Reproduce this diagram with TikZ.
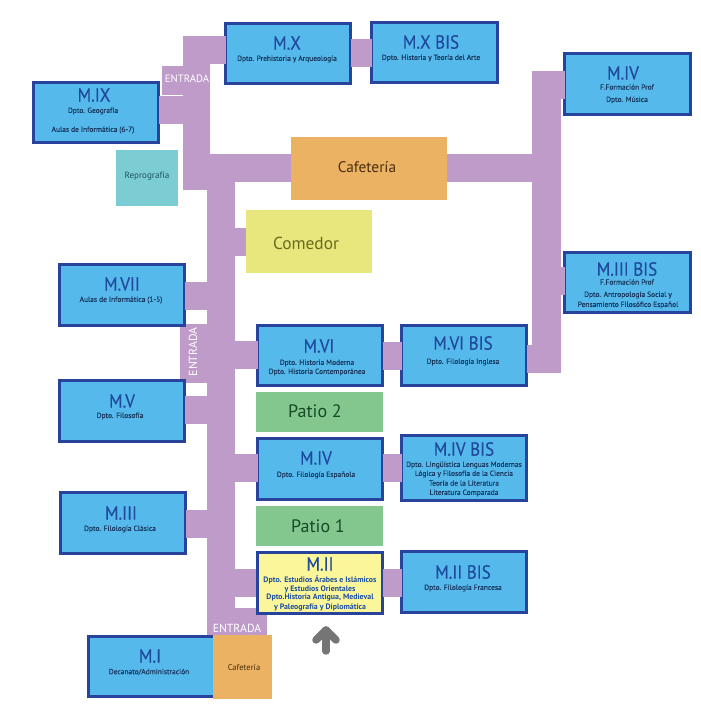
\documentclass[tikz,border=0pt]{standalone}
\usepackage{fontspec}
\setmainfont{PT Sans}
\newfontfamily\ttlfont[FakeBold=0.25,FakeStretch=0.9]{PT Sans}
\newfontfamily\subfont[FakeBold=0.25]{PT Sans}
\definecolor{corr}{HTML}{BF9BC9}
\definecolor{bluefill}{HTML}{56B9EB}
\definecolor{blueline}{HTML}{27439B}
\definecolor{ttlc}{HTML}{1F4A9C}
\definecolor{subc}{HTML}{17375E}
\definecolor{caf}{HTML}{EBB264}
\definecolor{cafc}{HTML}{4A2F0C}
\definecolor{com}{HTML}{E7E77D}
\definecolor{comc}{HTML}{6B6B1E}
\definecolor{rep}{HTML}{7CCDD3}
\definecolor{repc}{HTML}{1D5560}
\definecolor{pat}{HTML}{83C78F}
\definecolor{patc}{HTML}{174A27}
\definecolor{yel}{HTML}{FBF69A}
\definecolor{yelc}{HTML}{1B4EA0}
\definecolor{arr}{HTML}{757575}
\newcommand\bx[6]{\node[#1,minimum width={(#5-#3)*0.75pt},minimum height={(#6-#4)*0.75pt}] (#2) at ({(#3+#5)/2},{(#4+#6)/2}) {};}
\tikzset{
  flat/.style={inner sep=0pt,outer sep=0pt,draw=none},
  corrbox/.style={flat,fill=corr},
  bluebox/.style={inner sep=0pt,outer sep=0pt,draw=blueline,line width=2.25pt,fill=bluefill},
  yelbox/.style={inner sep=0pt,outer sep=0pt,draw=blueline,line width=2.25pt,fill=yel},
  cafbox/.style={flat,fill=caf},
  combox/.style={flat,fill=com},
  repbox/.style={flat,fill=rep},
  patbox/.style={flat,fill=pat},
  conn/.style={draw=corr,line width=21pt},
  ttl/.style={inner sep=0pt,text=ttlc,font=\ttlfont\fontsize{14.2}{16}\selectfont},
  sub/.style={inner sep=0pt,text=subc,font=\subfont\fontsize{5.6}{7}\selectfont},
  ysub/.style={inner sep=0pt,text=yelc,font=\fontsize{5.9}{7}\selectfont\bfseries},
  ent/.style={inner sep=0pt,text=white,font=\fontsize{8}{9}\selectfont},
}
\begin{document}
\begin{tikzpicture}[x=0.75pt,y=-0.75pt]
\useasboundingbox (0,0) rectangle (700,714);
% corridors
\bx{corrbox}{upper}{183}{36}{210}{190}
\bx{corrbox}{trunk}{207}{182}{235}{635}
\bx{corrbox}{right}{532}{71}{561}{373}
\bx{corrbox}{entA}{162}{66}{183}{95}
\bx{corrbox}{entB}{180}{324}{207}{383}
\bx{corrbox}{entC}{207}{608}{267}{635}
% boxes
\bx{bluebox}{m9}{33.5}{82.5}{158.5}{142.5}
\bx{bluebox}{m10}{225.5}{23.5}{350.5}{83.5}
\bx{bluebox}{m10b}{371.5}{22.5}{497.5}{82.5}
\bx{bluebox}{m4p}{564.5}{53.5}{690.5}{114.5}
\bx{bluebox}{m3b}{564.5}{252.5}{690.5}{312.5}
\bx{bluebox}{m7}{59.5}{264.5}{184.5}{325.5}
\bx{bluebox}{m5}{59.5}{380.5}{184.5}{441.5}
\bx{bluebox}{m6}{257.5}{325.5}{382.5}{385.5}
\bx{bluebox}{m6b}{401.5}{325.5}{526.5}{385.5}
\bx{bluebox}{m4}{257.5}{438.5}{382.5}{499.5}
\bx{bluebox}{m4b}{401.5}{435.5}{526.5}{500.5}
\bx{bluebox}{m3}{60.5}{492.5}{185.5}{553.5}
\bx{bluebox}{m2b}{401.5}{551.5}{526.5}{612.5}
\bx{bluebox}{m1}{88.5}{636.5}{214.5}{696.5}
% connectors passing under box borders
\draw[conn] (upper.east |- 0,50) -- (m10.west |- 0,50);
\draw[conn] (trunk.east |- 0,583) -- (256,583) coordinate (m2end);
\draw[conn] (upper.east |- 0,168) -- (291,168) coordinate (cafw);
\draw[conn] (right.west |- 0,168) -- (447,168) coordinate (cafe);
\draw[conn] (trunk.east |- 0,242) -- (246,242) coordinate (comw);
\draw[conn] (trunk.west |- 0,296) -- (m7.east |- 0,296);
\draw[conn] (trunk.west |- 0,410) -- (m5.east |- 0,410);
% connectors laid over box borders
\draw[conn] (upper.west |- 0,110) -- (m9.east |- 0,110);
\draw[conn] (m10.east |- 0,53) -- (m10b.west |- 0,53);
\draw[conn] (right.east |- 0,85) -- (m4p.west |- 0,85);
\draw[conn] (right.east |- 0,281) -- (m3b.west |- 0,281);
\draw[conn] (trunk.east |- 0,355) -- (m6.west |- 0,355);
\draw[conn] (m6.east |- 0,355.5) -- (m6b.west |- 0,355.5);
\draw[conn] (m6b.east |- 0,359) -- (right.east |- 0,359);
\draw[conn] (trunk.east |- 0,468) -- (m4.west |- 0,468);
\draw[conn] (m4.east |- 0,468) -- (m4b.west |- 0,468);
\draw[conn] (trunk.west |- 0,523.5) -- (m3.east |- 0,523.5);
% filled blocks without outline
\bx{cafbox}{cafe}{291}{137}{447}{200}
\bx{combox}{comedor}{246}{210}{372}{273}
\bx{repbox}{repro}{116}{150}{178}{206}
\bx{patbox}{patio2}{256}{392}{383}{432}
\bx{patbox}{patio1}{256}{506}{383}{546}
\bx{cafbox}{cafs}{213}{635}{272}{699}
\bx{yelbox}{m2}{257.5}{552.5}{382.5}{613.5}
\draw[conn] (m2.east |- 0,583) -- (m2b.west |- 0,583);
% arrow
\draw[draw=arr,line width=5.6pt,line cap=round,line join=round] (326,651) coordinate (arrb) -- (326,630) coordinate (arrt);
\draw[draw=arr,line width=5.6pt,line cap=round,line join=round] (316,640) coordinate (arrl) -- (arrt) -- (336,640) coordinate (arrr);
% texts
\node[ttl] (t9) at (94,95) {M.IX};
\node[sub] (s9a) at (93,111) {Dpto. Geografía};
\node[sub] (s9b) at (93,130) {Aulas de Informática (6-7)};
\node[ttl] (t10) at (287,43) {M.X};
\node[sub] (s10) at (287,59) {Dpto. Prehistoria y Arqueología};
\node[ttl] (t10b) at (431,42) {M.X BIS};
\node[sub] (s10b) at (431,58) {Dpto. Historia y Teoría del Arte};
\node[ttl] (t4p) at (623,73) {M.IV};
\node[sub] (s4a) at (627,87) {F.Formación Prof};
\node[sub] (s4b) at (627,100) {Dpto. Música};
\node[ttl] (t3b) at (627,269) {M.III BIS};
\node[sub] (s3a) at (627,282) {F.Formación Prof};
\node[sub] (s3b) at (628,295) {Dpto. Antropología Social y};
\node[sub] (s3c) at (628,305) {Pensamiento Filosófico Español};
\node[inner sep=0pt,text=cafc,font=\fontsize{11.5}{13}\selectfont] (tcaf) at (367,167) {Cafetería};
\node[inner sep=0pt,text=comc,font=\fontsize{13}{15}\selectfont] (tcom) at (306,243) {Comedor};
\node[inner sep=0pt,text=repc,font=\fontsize{6.8}{8}\selectfont] (trep) at (147,176) {Reprografía};
\node[inner sep=0pt,text=cafc,font=\fontsize{6.4}{8}\selectfont] (tcafs) at (244,667) {Cafetería};
\node[ttl] (t7) at (122,284) {M.VII};
\node[sub] (s7) at (121,300) {Aulas de Informática (1-5)};
\node[ttl] (t5) at (122,401) {M.V};
\node[sub] (s5) at (120,416) {Dpto. Filosofía};
\node[ttl] (t6) at (319,346) {M.VI};
\node[sub] (s6a) at (317,363) {Dpto. Historia Moderna};
\node[sub] (s6b) at (317,372) {Dpto. Historia Contemporánea};
\node[ttl] (t6b) at (463,343) {M.VI BIS};
\node[sub] (s6c) at (463,362) {Dpto. Filología Inglesa};
\node[inner sep=0pt,text=patc,font=\fontsize{13.5}{15}\selectfont] (tp2) at (315,411) {Patio 2};
\node[ttl] (t4) at (316,458) {M.IV};
\node[sub] (s4) at (316,475) {Dpto. Filología Española};
\node[ttl] (t4b) at (464,449) {M.IV BIS};
\node[sub] (s4c) at (464,465) {Dpto. Lingüística Lenguas Modernas};
\node[sub] (s4d) at (464,474) {Lógica y Filosofía de la Ciencia};
\node[sub] (s4e) at (464,483) {Teoría de la Literatura};
\node[sub] (s4f) at (464,493) {Literatura Comparada};
\node[inner sep=0pt,text=patc,font=\fontsize{13.5}{15}\selectfont] (tp1) at (318,526) {Patio 1};
\node[ttl] (t2) at (320,564) {M.II};
\node[ysub] (s2a) at (320,580) {Dpto. Estudios Árabes e Islámicos};
\node[ysub] (s2b) at (320,589) {y Estudios Orientales};
\node[ysub] (s2c) at (320,598) {Dpto.Historia Antigua, Medieval};
\node[ysub] (s2d) at (320,607) {y Paleografía y Diplomática};
\node[ttl] (t2b) at (463,572) {M.II BIS};
\node[sub] (s2e) at (463,588) {Dpto. Filología Francesa};
\node[ttl] (t3) at (121,513) {M.III};
\node[sub] (s3) at (120,529) {Dpto. Filología Clásica};
\node[ttl] (t1) at (150,656) {M.I};
\node[sub] (s1) at (149,672) {Decanato/Administración};
\node[ent] (e1) at (187,79) {ENTRADA};
\node[ent,rotate=90,font=\fontsize{8.8}{9}\selectfont] (e2) at (193,352) {ENTRADA};
\node[ent,font=\fontsize{8.8}{9}\selectfont] (e3) at (237,628) {ENTRADA};
\end{tikzpicture}
\end{document}
